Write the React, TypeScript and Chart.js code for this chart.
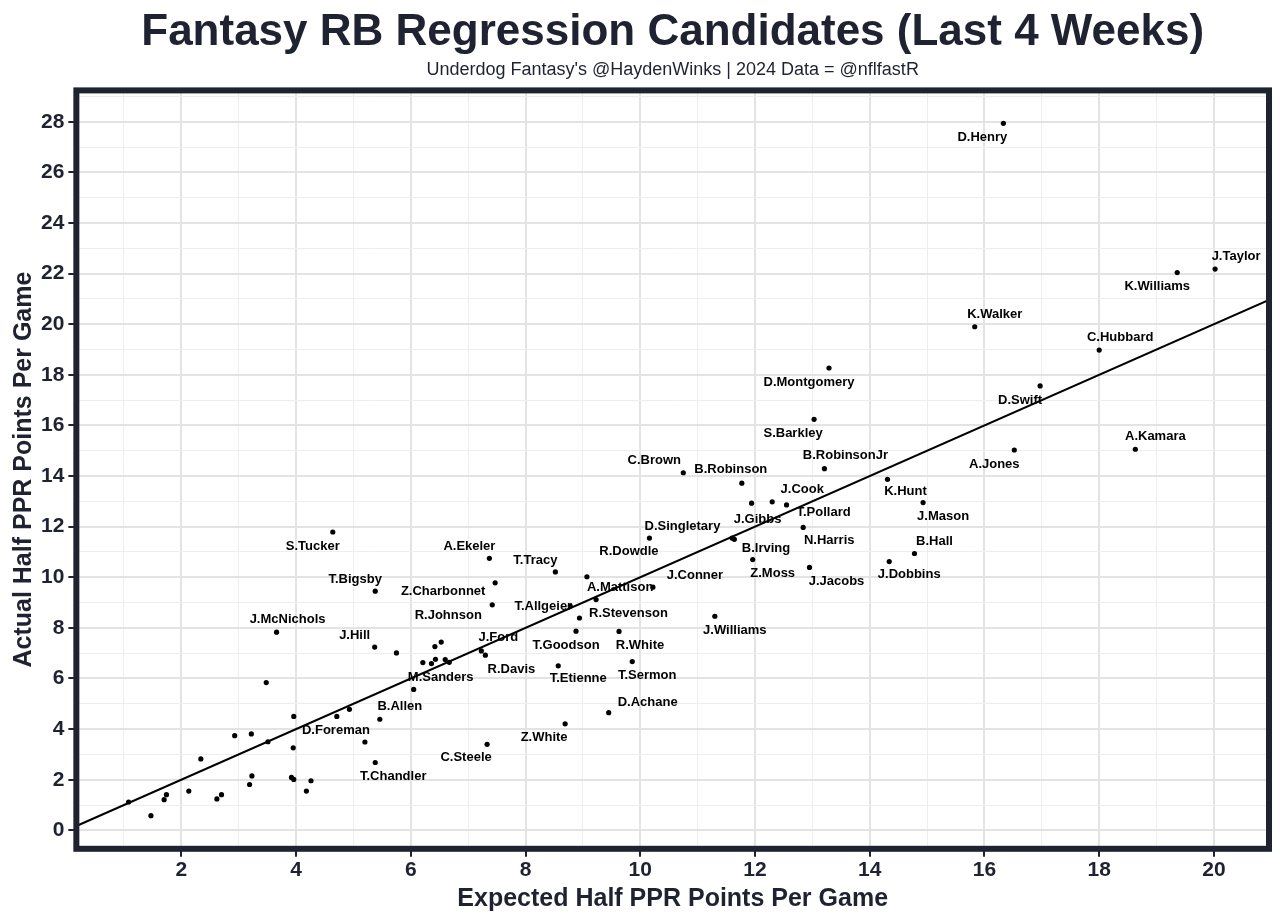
import React, { useEffect, useRef } from "react";
import { Chart, registerables } from "chart.js";

Chart.register(...registerables);

const TITLE = "Fantasy RB Regression Candidates (Last 4 Weeks)";
const SUBTITLE = "Underdog Fantasy's @HaydenWinks | 2024 Data = @nflfastR";
const X_TITLE = "Expected Half PPR Points Per Game";
const Y_TITLE = "Actual Half PPR Points Per Game";

// Player names ("" = unlabeled point)
const players: string[] = [
  "D.Henry", "J.Taylor", "K.Williams", "K.Walker", "C.Hubbard", "D.Swift",
  "D.Montgomery", "S.Barkley", "A.Kamara", "A.Jones", "B.RobinsonJr", "C.Brown",
  "B.Robinson", "K.Hunt", "J.Mason", "J.Gibbs", "J.Cook", "T.Pollard",
  "N.Harris", "B.Irving", "D.Singletary", "Z.Moss", "J.Jacobs", "B.Hall",
  "J.Dobbins", "S.Tucker", "A.Ekeler", "T.Tracy", "R.Dowdle", "J.Conner",
  "A.Mattison", "T.Allgeier", "R.Stevenson", "T.Goodson", "R.White", "J.Williams",
  "Z.Charbonnet", "R.Johnson", "T.Bigsby", "J.McNichols", "J.Hill", "J.Ford",
  "R.Davis", "M.Sanders", "T.Etienne", "T.Sermon", "D.Achane", "Z.White",
  "C.Steele", "B.Allen", "D.Foreman", "T.Chandler",
  "", "", "", "", "", "", "", "", "", "", "", "", "", "", "", "",
  "", "", "", "", "", "", "", "", "", "", "", "", "", "", "",
];

// Expected half PPR points per game (x)
const expectedPts: number[] = [
  16.33, 20.02, 19.36, 15.83, 18.0, 16.97,
  13.29, 13.03, 18.63, 16.52, 13.21, 10.75,
  11.77, 14.31, 14.93, 11.94, 12.3, 12.55,
  12.84, 11.6, 10.16, 11.96, 12.95, 14.78,
  14.34, 4.64, 7.37, 8.52, 9.07, 10.22,
  9.23, 8.78, 8.94, 8.88, 9.63, 11.3,
  7.47, 7.42, 5.38, 3.66, 5.37, 7.23,
  7.3, 6.05, 8.57, 9.86, 9.45, 8.69,
  7.33, 5.46, 5.2, 5.38,
  5.75, 6.42, 6.53, 6.21, 6.36, 6.43, 6.6, 6.67, 3.48, 3.96, 4.93, 4.71, 2.93, 3.22, 3.51, 3.95,
  2.34, 1.08, 1.47, 1.7, 1.74, 2.13, 2.62, 2.7, 3.19, 3.23, 3.92, 3.96, 4.26, 4.18, 11.64,
];

// Actual half PPR points per game (y)
const actualPts: number[] = [
  27.94, 22.18, 22.04, 19.9, 18.98, 17.56,
  18.27, 16.24, 15.06, 15.03, 14.29, 14.13,
  13.72, 13.87, 12.95, 12.93, 12.98, 12.86,
  11.97, 11.55, 11.55, 10.7, 10.39, 10.94,
  10.62, 11.79, 10.75, 10.21, 10.02, 9.61,
  9.12, 8.86, 8.39, 7.87, 7.86, 8.46,
  9.78, 8.91, 9.45, 7.83, 7.24, 7.09,
  6.92, 5.57, 6.5, 6.67, 4.65, 4.21,
  3.4, 4.39, 3.49, 2.68,
  7.01, 7.26, 7.44, 6.63, 6.59, 6.76, 6.75, 6.64, 5.84, 4.5, 4.78, 4.5, 3.74, 3.81, 3.5, 3.26,
  2.82, 1.12, 0.58, 1.21, 1.41, 1.55, 1.24, 1.41, 1.81, 2.15, 2.09, 2.01, 1.96, 1.55, 11.5,
];

const xTickLabels: number[] = [2, 4, 6, 8, 10, 12, 14, 16, 18, 20];
const yTickLabels: number[] = [0, 2, 4, 6, 8, 10, 12, 14, 16, 18, 20, 22, 24, 26, 28];

// Reference line: actual = intercept + slope * expected
const fitSlope = 1;
const fitIntercept = 0;

// ---- layout / style (not data) ----
const X_MIN = 0.17;
const X_MAX = 20.96;
const Y_MIN = -0.73;
const Y_MAX = 29.24;

const DARK = "#1f2230";
const FONT = '"Liberation Sans", Arial, Helvetica, sans-serif';
const GRID_MAJOR = "#e3e3e3";
const GRID_MINOR = "#eeeeee";

// label placement offsets in pixels (label centre minus point)
const labelOffsets: Record<string, [number, number]> = {
  "D.Henry": [-21, 14], "J.Taylor": [21, -13], "K.Williams": [-20, 14], "K.Walker": [20, -12],
  "C.Hubbard": [21, -13], "D.Swift": [-20, 14], "D.Montgomery": [-20, 14], "S.Barkley": [-21, 14],
  "A.Kamara": [20, -13], "A.Jones": [-20, 14], "B.RobinsonJr": [21, -13], "C.Brown": [-29, -12],
  "B.Robinson": [-11, -14], "K.Hunt": [18, 12], "J.Mason": [20, 14], "J.Gibbs": [6, 16],
  "J.Cook": [30, -12], "T.Pollard": [37, 8], "N.Harris": [26, 13], "B.Irving": [34, 10],
  "D.Singletary": [33, -12], "Z.Moss": [20, 14], "J.Jacobs": [27, 14], "B.Hall": [20, -12],
  "J.Dobbins": [20, 13], "S.Tucker": [-20, 14], "A.Ekeler": [-20, -12], "T.Tracy": [-20, -12],
  "R.Dowdle": [42, -25], "J.Conner": [42, -12], "A.Mattison": [24, -12], "T.Allgeier": [-27, 0],
  "R.Stevenson": [49, -5], "T.Goodson": [-10, 14], "R.White": [21, 14], "J.Williams": [20, 14],
  "Z.Charbonnet": [-52, 9], "R.Johnson": [-44, 11], "T.Bigsby": [-20, -12], "J.McNichols": [11, -13],
  "J.Hill": [-20, -12], "J.Ford": [17, -13], "R.Davis": [26, 14], "M.Sanders": [27, -12],
  "T.Etienne": [20, 13], "T.Sermon": [15, 14], "D.Achane": [39, -10], "Z.White": [-21, 14],
  "C.Steele": [-21, 13], "B.Allen": [20, -13], "D.Foreman": [-29, -12], "T.Chandler": [18, 14],
};

const isEven = (v: number) => Math.abs(v % 2) < 1e-6;

const labelPlugin = {
  id: "pointLabels",
  afterDatasetsDraw(chart: any) {
    const { ctx, scales } = chart;
    const xs = scales.x;
    const ys = scales.y;
    ctx.save();
    ctx.font = `bold 13px ${FONT}`;
    ctx.fillStyle = "#000000";
    ctx.textAlign = "center";
    ctx.textBaseline = "middle";
    players.forEach((name, i) => {
      if (!name) return;
      const off = labelOffsets[name] || [0, -12];
      const px = xs.getPixelForValue(expectedPts[i]);
      const py = ys.getPixelForValue(actualPts[i]);
      ctx.fillText(name, px + off[0], py + off[1]);
    });
    ctx.restore();
  },
};

const borderPlugin = {
  id: "panelBorder",
  afterDraw(chart: any) {
    const { ctx, chartArea: a } = chart;
    ctx.save();
    ctx.strokeStyle = DARK;
    ctx.lineWidth = 6;
    ctx.strokeRect(a.left, a.top, a.right - a.left, a.bottom - a.top);
    ctx.restore();
  },
};

function axisCommon(labels: number[], tickPad: number) {
  return {
    type: "linear" as const,
    ticks: {
      stepSize: 1,
      autoSkip: false,
      includeBounds: false,
      maxRotation: 0,
      padding: tickPad,
      color: DARK,
      font: { family: FONT, size: 21, weight: "bold" as const },
      callback: (v: number) => (labels.some((l) => Math.abs(l - v) < 1e-6) ? String(v) : ""),
    },
    grid: {
      drawTicks: true,
      tickLength: 8,
      color: (c: any) => (c.tick && isEven(c.tick.value) ? GRID_MAJOR : GRID_MINOR),
      lineWidth: (c: any) => (c.tick && isEven(c.tick.value) ? 2 : 1),
      tickColor: (c: any) => (c.tick && isEven(c.tick.value) ? DARK : "rgba(0,0,0,0)"),
      tickWidth: 2,
    },
    border: { display: false },
  };
}

export default function App() {
  const canvasRef = useRef<HTMLCanvasElement | null>(null);

  useEffect(() => {
    const canvas = canvasRef.current;
    if (!canvas) return;
    const points = expectedPts.map((x, i) => ({ x, y: actualPts[i] }));
    const chart = new Chart(canvas, {
      type: "scatter",
      data: {
        datasets: [
          {
            type: "scatter",
            data: points,
            pointRadius: 2.6,
            pointBackgroundColor: "#000000",
            pointBorderWidth: 0,
            order: 0,
          } as any,
          {
            type: "line",
            data: [
              { x: X_MIN, y: fitIntercept + fitSlope * X_MIN },
              { x: X_MAX, y: fitIntercept + fitSlope * X_MAX },
            ],
            borderColor: "#000000",
            borderWidth: 2,
            pointRadius: 0,
            fill: false,
            order: 1,
          } as any,
        ],
      },
      options: {
        responsive: false,
        animation: false,
        layout: { padding: { left: 0, right: 11, top: 0, bottom: 5 } },
        plugins: {
          legend: { display: false },
          tooltip: { enabled: false },
          title: {
            display: true,
            fullSize: false,
            text: TITLE,
            color: DARK,
            font: { family: FONT, size: 44, weight: "bold", lineHeight: 1.2 },
            padding: { top: 6, bottom: 0 },
          },
          subtitle: {
            display: true,
            fullSize: false,
            text: SUBTITLE,
            color: DARK,
            font: { family: FONT, size: 18, weight: "normal", lineHeight: 1.2 },
            padding: { top: 0, bottom: 10 },
          },
        },
        scales: {
          x: {
            ...axisCommon(xTickLabels, 1),
            min: X_MIN,
            max: X_MAX,
            title: {
              display: true,
              text: X_TITLE,
              color: DARK,
              font: { family: FONT, size: 25, weight: "bold", lineHeight: 1.2 },
              padding: { top: 0, bottom: 3 },
            },
          },
          y: {
            ...axisCommon(yTickLabels, 4),
            min: Y_MIN,
            max: Y_MAX,
            title: {
              display: true,
              text: Y_TITLE,
              color: DARK,
              font: { family: FONT, size: 25, weight: "bold", lineHeight: 1.0 },
              padding: { top: 12, bottom: 0 },
            },
          },
        },
      } as any,
      plugins: [labelPlugin, borderPlugin],
    });
    return () => chart.destroy();
  }, []);

  return (
    <div style={{ position: "fixed", left: 0, top: 0, width: 1280, height: 922, background: "#ffffff" }}>
      <canvas ref={canvasRef} width={1280} height={922} style={{ width: 1280, height: 922, display: "block" }} />
    </div>
  );
}
